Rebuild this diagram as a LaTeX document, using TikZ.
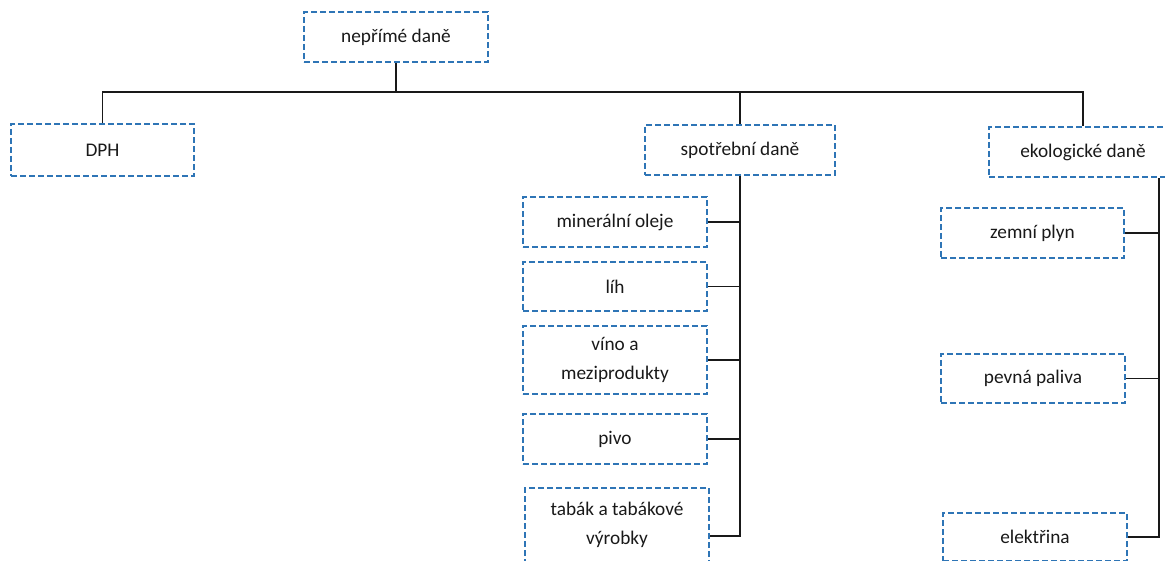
\documentclass[tikz,border=0pt]{standalone}
\usepackage{fontspec}
\setmainfont{Carlito}
\usetikzlibrary{positioning}
\definecolor{boxblue}{RGB}{46,117,182}
\tikzset{dbox/.style={draw=boxblue,line width=1.6pt,dash pattern=on 6pt off 3pt,minimum width=184pt,minimum height=50pt,inner sep=0pt,align=center,font=\fontsize{19.3}{29}\selectfont,text=black!90}}
\tikzset{link/.style={draw=black!90,line width=1.6pt}}

\begin{document}
\begin{tikzpicture}[x=1pt,y=-1pt]
            \useasboundingbox (0,0) rectangle (1165,561);
            \clip (0,0) rectangle (1165,561);
            \node [dbox] (nepr) at (396,37) {nepřímé daně};
            \node [dbox,minimum height=52pt,minimum width=183pt] (dph) at (102.5,150) {DPH};
            \node [dbox,minimum width=190pt] (spot) at (740,150) {spotřební daně};
            \node [dbox,minimum width=188pt] (eko) at (1083,152) {ekologické daně};
            % spotrebni dane
            \node [dbox] (miner) at (615,222) {minerální oleje};
            \node [dbox,minimum height=49pt] (lih) at (615,286.5) {líh};
            \node [dbox,minimum height=68pt] (vino) at (615,360) {víno a\\meziprodukty};
            \node [dbox] (pivo) at (615,439) {pivo};
            \node [dbox,minimum height=74pt] (tabak) at (617,525) {tabák a tabákové\\výrobky};
            % ekologicke dane
            \node [dbox,minimum width=183pt] (zemni) at (1032.5,233) {zemní plyn};
            \node [dbox,minimum height=49pt] (pevna) at (1033,378.5) {pevná paliva};
            \node [dbox,minimum height=48pt] (elek) at (1035,537) {elektřina};
            \coordinate (bus) at (396,92);
            \draw [link] (nepr.south) -- (bus);
            \draw [link] (dph.north) |- (bus) -| (eko.north);
            \draw [link] (bus -| spot.north) -- (spot.north);
            \draw [link] (spot.south) |- ([yshift=-11pt]tabak.east);
            \draw [link] (miner.east) -- (miner.east -| spot.south);
            \draw [link] (lih.east) -- (lih.east -| spot.south);
            \draw [link] (vino.east) -- (vino.east -| spot.south);
            \draw [link] (pivo.east) -- (pivo.east -| spot.south);
            \draw [link] ([xshift=-19pt]eko.south east) |- (elek.east);
            \draw [link] (zemni.east) -- ++(34,0);
            \draw [link] (pevna.east) -- ++(33,0);
        \end{tikzpicture}
\end{document}
